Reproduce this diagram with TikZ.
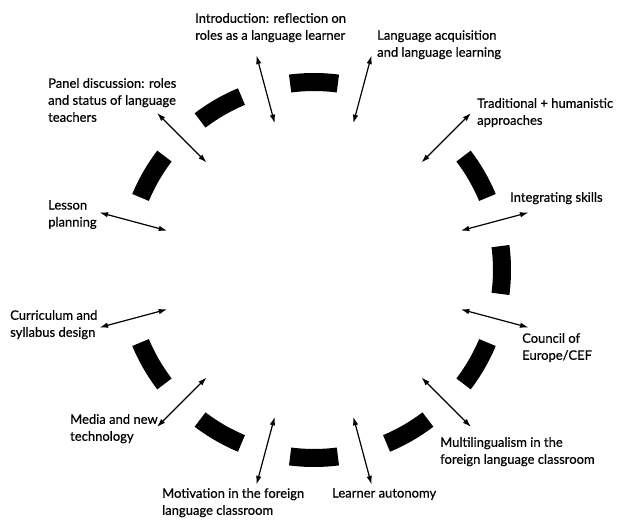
\documentclass[tikz,border=0pt]{standalone}
\usepackage{fontspec}
\setmainfont{Lato}[FakeBold=0.5]
\usetikzlibrary{arrows.meta}

\begin{document}
\begin{tikzpicture}[x=1pt,y=1pt,
  lbl/.style={anchor=north west,inner sep=0pt,align=left,font=\fontsize{13}{17}\selectfont},
  link/.style={{Latex[length=8.5pt,width=5.5pt]}-{Latex[length=8.5pt,width=5.5pt]},line width=1.2pt}]
\useasboundingbox (-314,-251) rectangle (303,270);

% ring segments (none at 60 and 180)
\foreach \a in {0,30,90,120,150,210,240,270,300,330}
  \fill (\a-7.3:179pt) arc[start angle=\a-7.3, end angle=\a+7.3, radius=179pt]
     -- (\a+7.3:197pt) arc[start angle=\a+7.3, end angle=\a-7.3, radius=197pt] -- cycle;

% ends of the arrows
\foreach \a [count=\i] in {105,75,45,15,-15,-45,-75,-105,-135,-165,165,135}{
  \coordinate (in\i) at (\a:152pt);
  \coordinate (out\i) at (\a:222pt);
}

\node[lbl] (intro) at (-119,257) {Introduction: reflection on\\roles as a language learner};
\node[lbl] (acq) at (63,240) {Language acquisition\\and language learning};
\node[lbl] (trad) at (163,172) {Traditional + humanistic\\approaches};
\node[lbl] (skills) at (196,78) {Integrating skills};
\node[lbl] (cef) at (208,-63) {Council of\\Europe/CEF};
\node[lbl] (multi) at (126,-167) {Multilingualism in the\\foreign language classroom};
\node[lbl] (auton) at (18,-218) {Learner autonomy};
\node[lbl] (motiv) at (-152,-218) {Motivation in the foreign\\language classroom};
\node[lbl] (media) at (-244,-144) {Media and new\\technology};
\node[lbl] (curric) at (-304,-40) {Curriculum and\\syllabus design};
\node[lbl] (lesson) at (-266,70) {Lesson\\planning};
\node[lbl] (panel) at (-266,192) {Panel discussion: roles\\and status of language\\teachers};

\foreach \i in {1,...,12}
  \draw[link] (in\i) -- (out\i);
\end{tikzpicture}
\end{document}
